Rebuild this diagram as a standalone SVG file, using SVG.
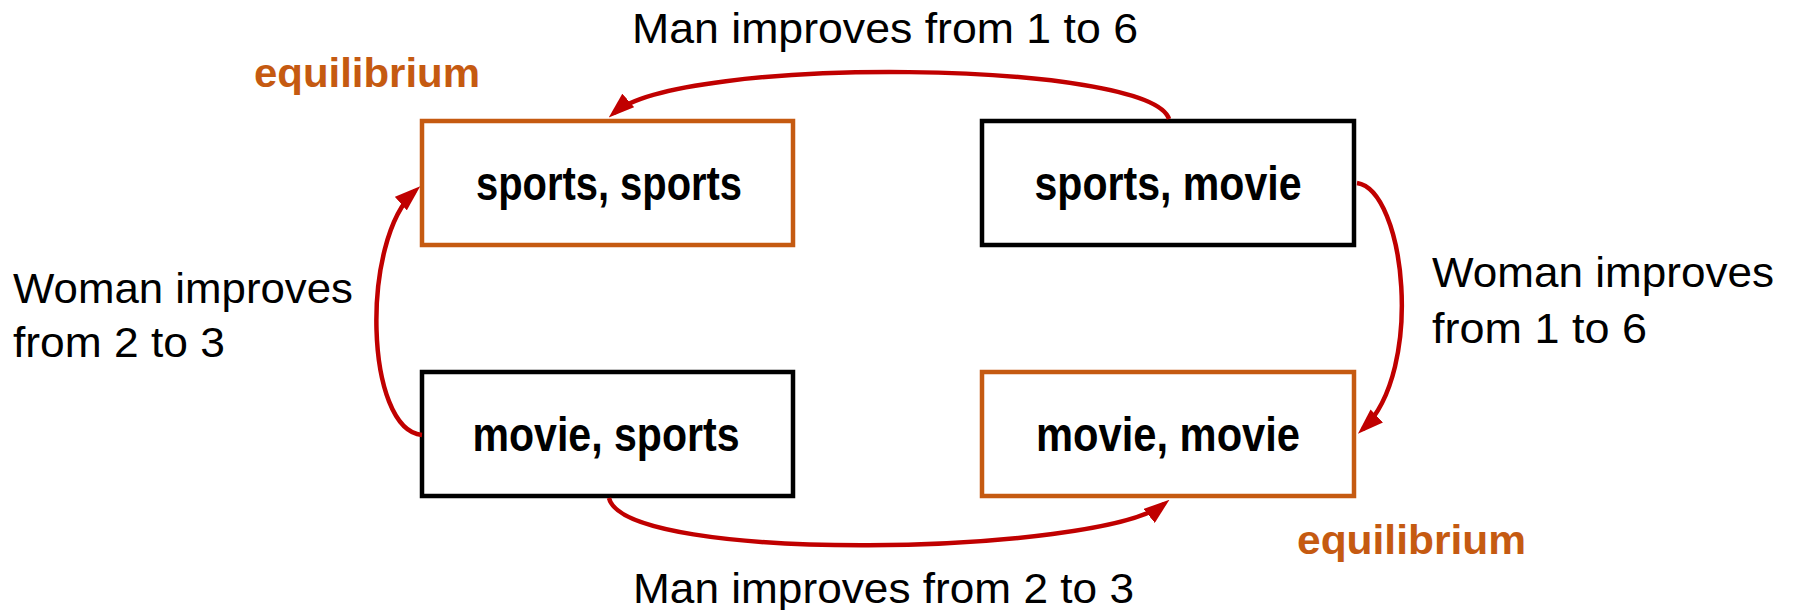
<svg xmlns="http://www.w3.org/2000/svg" width="1797" height="610" viewBox="0 0 1797 610">
  <style>
    .box { fill: #ffffff; stroke-width: 4.5; }
    .plain { stroke: #000000; }
    .eq { stroke: #C55A11; }
    .node-label { font-family: "Liberation Sans", Arial, sans-serif; font-weight: bold; font-size: 48px; fill: #000000; text-anchor: middle; }
    .label { font-family: "Liberation Sans", Arial, sans-serif; font-size: 43px; fill: #000000; }
    .eq-label { font-family: "Liberation Sans", Arial, sans-serif; font-weight: bold; font-size: 40px; fill: #C55A11; }
    .edge { fill: none; stroke: #C00000; stroke-width: 4.5; marker-end: url(#arrow); }
  </style>
  <defs>
    <marker id="arrow" markerUnits="userSpaceOnUse" viewBox="0 0 26 18" refX="19" refY="9" markerWidth="26" markerHeight="18" orient="auto">
      <path d="M0,0 L26,9 L0,18 z" fill="#C00000"/>
    </marker>
  </defs>
  <rect width="1797" height="610" fill="#ffffff"/>

  <!-- strategy profiles -->
  <g id="node-sports-sports">
    <rect class="box eq" x="422" y="121" width="371" height="124"/>
    <text class="node-label" x="609" y="200" textLength="266" lengthAdjust="spacingAndGlyphs">sports, sports</text>
  </g>
  <g id="node-sports-movie">
    <rect class="box plain" x="982" y="121" width="372" height="124"/>
    <text class="node-label" x="1168" y="200" textLength="267" lengthAdjust="spacingAndGlyphs">sports, movie</text>
  </g>
  <g id="node-movie-sports">
    <rect class="box plain" x="422" y="372" width="371" height="124"/>
    <text class="node-label" x="606" y="451" textLength="267" lengthAdjust="spacingAndGlyphs">movie, sports</text>
  </g>
  <g id="node-movie-movie">
    <rect class="box eq" x="982" y="372" width="372" height="124"/>
    <text class="node-label" x="1168" y="451" textLength="264" lengthAdjust="spacingAndGlyphs">movie, movie</text>
  </g>

  <!-- best-response moves -->
  <g id="connectors">
    <path class="edge" d="M1169,119 C1150,60 680,55 614,113"/>
    <path class="edge" d="M1357,183 C1405,190 1425,370 1363,429"/>
    <path class="edge" d="M422,435 C365,430 360,240 415,191"/>
    <path class="edge" d="M609,498 C625,565 1100,555 1164,504"/>
  </g>

  <!-- move labels -->
  <g id="labels">
    <text class="label" x="632" y="43" textLength="506" lengthAdjust="spacingAndGlyphs">Man improves from 1 to 6</text>
    <text class="label" x="633" y="603" textLength="501" lengthAdjust="spacingAndGlyphs">Man improves from 2 to 3</text>
    <text class="label" x="13" y="303" textLength="340" lengthAdjust="spacingAndGlyphs">Woman improves</text>
    <text class="label" x="13" y="357" textLength="212" lengthAdjust="spacingAndGlyphs">from 2 to 3</text>
    <text class="label" x="1432" y="287" textLength="342" lengthAdjust="spacingAndGlyphs">Woman improves</text>
    <text class="label" x="1432" y="343" textLength="215" lengthAdjust="spacingAndGlyphs">from 1 to 6</text>
    <text class="eq-label" x="254" y="87" textLength="226" lengthAdjust="spacingAndGlyphs">equilibrium</text>
    <text class="eq-label" x="1297" y="554" textLength="229" lengthAdjust="spacingAndGlyphs">equilibrium</text>
  </g>
</svg>
